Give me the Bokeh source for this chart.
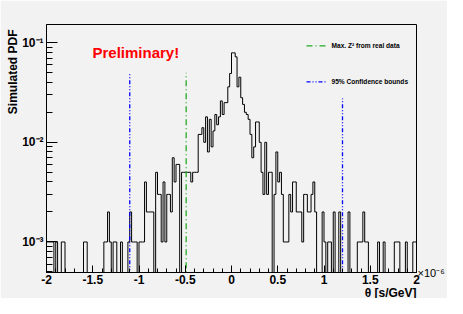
import math
import numpy as np
from bokeh.plotting import figure
from bokeh.models import Range1d, FixedTicker, Label, LinearAxis, Axis, Title
from bokeh.embed import file_html
from bokeh.resources import INLINE

# ---------------- data ----------------
theta_min, theta_max = -2.0, 2.0          # x 10^-6 s/GeV
pdf_unit = 1e-3                            # one count = 1e-3 of PDF
counts = [
    1, 1, 1, 1, 0, 1, 0, 0, 1, 1,
    0, 0, 0, 0, 0, 0, 0, 0, 0, 0,
    1, 1, 0, 0, 0, 0, 0, 0, 0, 0,
    0, 1, 1, 2, 1, 0, 1, 1, 0, 0,
    1, 0, 0, 0, 1, 2, 1, 1, 1, 0,
    1, 1, 1, 4, 2, 2, 2, 2, 0, 5,
    3, 3, 1, 4, 1, 3, 3, 2, 7, 4,
    6, 6, 0, 5, 5, 5, 5, 5, 4, 5,
    5, 5, 12, 12, 14, 10, 18, 8, 17, 9,
    13, 19, 15, 18, 26, 19, 25, 25, 36, 49,
    79, 79, 72, 36, 45, 28, 24, 20, 19, 17,
    12, 7, 9, 16, 16, 10, 5, 3, 10, 3,
    5, 5, 0, 3, 8, 4, 5, 3, 1, 1,
    1, 3, 2, 4, 4, 2, 2, 2, 1, 3,
    3, 2, 2, 3, 4, 2, 0, 0, 0, 2,
    1, 0, 1, 1, 0, 2, 0, 0, 2, 0,
    0, 0, 0, 2, 0, 0, 0, 0, 1, 1,
    1, 2, 1, 1, 0, 0, 0, 0, 0, 1,
    0, 0, 1, 0, 0, 0, 0, 0, 1, 1,
    1, 0, 0, 0, 1, 0, 0, 0, 1, 1,
]
max_z2_theta = [-0.49]
max_z2_height = [0.050]
conf_theta = [-1.10, 1.20]
conf_height = [0.050, 0.0275]
x_tick_values = [-2, -1.5, -1, -0.5, 0, 0.5, 1, 1.5, 2]
x_tick_labels = ["-2", "-1.5", "-1", "-0.5", "0", "0.5", "1", "1.5", "2"]
y_tick_values = [1e-3, 1e-2, 1e-1]
y_tick_labels = ["10\u207b\u00b3", "10\u207b\u00b2", "10\u207b\u00b9"]
y_min, y_max = 4.94e-4, 0.152

# ---------------- layout / style ----------------
BG = "#f2f2f2"
FONT = "Liberation Sans"
W, H = 447, 298
BL, BR, BT, BB = 46, 31, 24, 26

# reference geometry (used to place in-frame annotations in data units)
REF_L, REF_R, REF_T, REF_B = 46.0, 416.0, 30.0, 282.0


def data_x(px):
    return theta_min + (px - REF_L) / (REF_R - REF_L) * (theta_max - theta_min)


def data_y(py):
    lo, hi = math.log10(y_min), math.log10(y_max)
    return 10 ** (hi - (py - REF_T) / (REF_B - REF_T) * (hi - lo))


HAS_ALIGN = "axis_label_align" in Axis.properties()

# ---------------- histogram outline ----------------
c = np.array(counts, dtype=float)
edges = np.linspace(theta_min, theta_max, len(c) + 1)
floor = y_min * 0.1
vals = np.where(c > 0, c * pdf_unit, floor)
xs = np.concatenate([[edges[0]], np.repeat(edges, 2)[1:-1], [edges[-1]]])
ys = np.concatenate([[floor], np.repeat(vals, 2), [floor]])

p = figure(width=W, height=H, x_range=Range1d(theta_min, theta_max),
           y_range=Range1d(y_min, y_max), y_axis_type="log",
           output_backend="svg", toolbar_location=None,
           min_border_left=BL, min_border_right=BR,
           min_border_top=BT, min_border_bottom=BB,
           background_fill_color=BG, border_fill_color=BG)
p.grid.visible = False
p.outline_line_color = "black"
p.outline_line_width = 1

p.line(xs, ys, line_color="black", line_width=1)

p.segment(x0=max_z2_theta, y0=[floor], x1=max_z2_theta, y1=max_z2_height,
          line_color="#22aa22", line_width=1.3, line_dash="6 3 1 3")
p.segment(x0=conf_theta, y0=[floor] * len(conf_theta), x1=conf_theta,
          y1=conf_height, line_color="#0000ff", line_width=1.3,
          line_dash="4 2 1 2 1 2")

# ticks
x_minor = [round(theta_min + 0.1 * k, 2) for k in range(41)]
y_minor = [k * 10.0 ** e for e in range(-4, 0) for k in range(2, 10)
           if y_min <= k * 10.0 ** e <= y_max]
p.xaxis.ticker = FixedTicker(ticks=x_tick_values, minor_ticks=x_minor)
p.yaxis.ticker = FixedTicker(ticks=y_tick_values, minor_ticks=y_minor)
p.xaxis.major_label_overrides = dict(zip(x_tick_values, x_tick_labels))
p.yaxis.major_label_overrides = dict(zip(y_tick_values, y_tick_labels))

for ax in (p.xaxis[0], p.yaxis[0]):
    ax.axis_line_color = "black"
    ax.major_tick_out = 0
    ax.minor_tick_out = 0
    ax.major_tick_line_color = "black"
    ax.minor_tick_line_color = "black"
    ax.major_label_text_font = FONT
    ax.major_label_text_font_style = "bold"
    ax.major_label_text_font_size = "12px"
    ax.major_label_text_color = "black"
p.xaxis.major_label_standoff = 2
p.yaxis.major_label_standoff = 3
p.xaxis.major_tick_in = 7
p.xaxis.minor_tick_in = 4
p.yaxis.major_tick_in = 11
p.yaxis.minor_tick_in = 6

# axis titles, ROOT style: aligned at the high end of each axis
p.add_layout(Title(text="Simulated PDF", align="right", offset=5, standoff=0,
                   text_font=FONT, text_font_size="12px",
                   text_font_style="bold", text_color="black"), "left")
p.add_layout(Title(text="\u03b8 [s/GeV]", align="right", standoff=-6,
                   text_font=FONT, text_font_size="12px",
                   text_font_style="bold", text_color="black"), "below")

# exponent of the x axis, drawn as a label-only axis on the right
exp_axis = LinearAxis(ticker=FixedTicker(ticks=[]), axis_label="\u00d710\u207b\u2076",
                      axis_label_orientation="horizontal", axis_label_standoff=1,
                      axis_line_color=None, major_tick_line_color=None,
                      minor_tick_line_color=None, major_label_standoff=0,
                      axis_label_text_font=FONT, axis_label_text_font_size="11px",
                      axis_label_text_font_style="normal",
                      axis_label_text_color="black")
if HAS_ALIGN:
    exp_axis.axis_label_align = "start"
p.add_layout(exp_axis, "right")


def add_text(text, px, py, size, color="black", style="bold", align="left"):
    p.add_layout(Label(x=data_x(px), y=data_y(py), text=text,
                       text_font=FONT, text_font_size=size,
                       text_font_style=style, text_color=color,
                       text_align=align, text_baseline="middle"))


add_text("Preliminary!", 92, 58, "15px", color="#ff0000")

# legend (drawn by hand, ROOT style)
p.line([data_x(306), data_x(325)], [data_y(51.7)] * 2, line_color="#22aa22",
       line_width=1.3, line_dash="6 3 1 3")
p.line([data_x(306), data_x(325)], [data_y(88.3)] * 2, line_color="#0000ff",
       line_width=1.3, line_dash="4 2 1 2 1 2")
add_text("Max. Z\u00b2 from real data", 331, 51.7, "6.6px")
add_text("95% Confidence bounds", 331, 88.3, "6.6px")

open("out.html", "w").write(file_html(p, INLINE))
